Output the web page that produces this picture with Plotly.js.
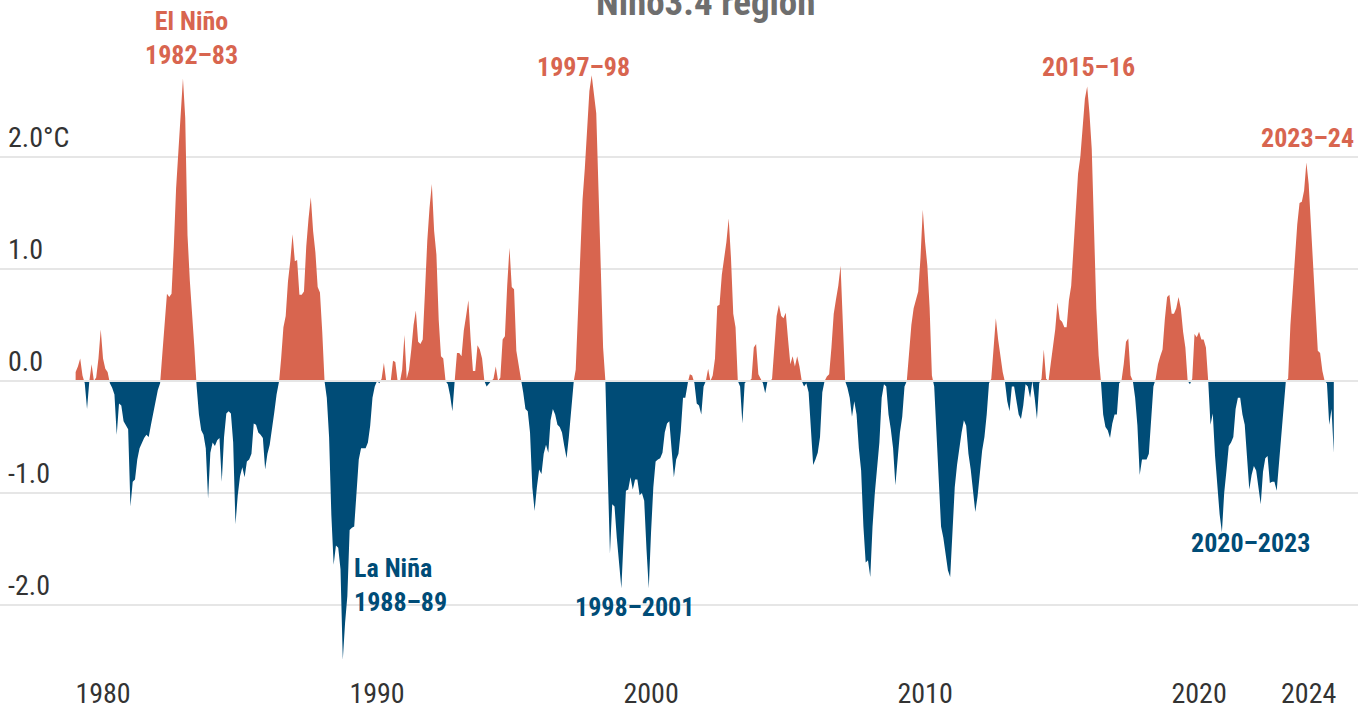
<!DOCTYPE html>
<html>
<head>
<meta charset="utf-8">
<script src="https://cdn.plot.ly/plotly-3.0.1.min.js"></script>
<style>html,body{margin:0;padding:0;background:#fff;}#chart{width:1358px;height:706px;}</style>
</head>
<body>
<div id="chart"></div>
<script>
// ---- DATA: monthly Niño3.4 SST anomaly (°C), starting January 1979 ----
const startYear = 1979;
const anom1979_1989 = [
  0.08, 0.13, 0.2, 0.05, -0.02, -0.25, 0.0, 0.15, 0.0, 0.03, 0.2, 0.46,          // 1979
  0.2, 0.11, 0.08, -0.02, -0.06, -0.12, -0.48, -0.2, -0.22, -0.36, -0.39, -0.43, // 1980
  -1.12, -0.9, -0.88, -0.7, -0.6, -0.55, -0.51, -0.48, -0.5, -0.39, -0.29, -0.2, // 1981
  -0.08, -0.02, 0.25, 0.55, 0.78, 0.75, 0.78, 1.2, 1.72, 2.05, 2.4, 2.7,         // 1982
  2.35, 1.3, 0.9, 0.62, 0.3, -0.05, -0.3, -0.44, -0.48, -0.6, -1.05, -0.64,      // 1983
  -0.55, -0.58, -0.53, -0.51, -0.9, -0.5, -0.29, -0.27, -0.29, -0.55, -1.28, -1.02, // 1984
  -0.85, -0.77, -0.86, -0.72, -0.7, -0.65, -0.38, -0.39, -0.46, -0.48, -0.51, -0.79, // 1985
  -0.65, -0.57, -0.44, -0.28, -0.12, -0.03, 0.2, 0.48, 0.58, 0.89, 1.07, 1.31,   // 1986
  1.07, 1.08, 0.77, 0.77, 0.8, 1.2, 1.45, 1.64, 1.34, 1.15, 0.84, 0.79,          // 1987
  0.44, 0.0, -0.15, -0.5, -1.2, -1.64, -1.47, -1.49, -1.68, -2.49, -2.16, -1.92, // 1988
  -1.33, -1.31, -1.3, -0.95, -0.7, -0.6, -0.6, -0.6, -0.55, -0.4, -0.15, -0.05   // 1989
];
const anom1990_1999 = [
  0.0, -0.02, 0.02, 0.16, 0.0, -0.01, 0.0, 0.18, 0.17, 0.0, -0.01, 0.1,          // 1990
  0.41, 0.02, 0.1, 0.28, 0.5, 0.63, 0.35, 0.33, 0.37, 0.8, 1.25, 1.55,           // 1991
  1.76, 1.34, 1.13, 0.55, 0.22, 0.2, 0.0, -0.03, -0.13, -0.27, 0.0, 0.25,        // 1992
  0.25, 0.22, 0.45, 0.58, 0.72, 0.37, 0.09, 0.09, 0.32, 0.28, 0.2, 0.0,          // 1993
  -0.05, -0.02, 0.0, 0.02, 0.13, 0.0, 0.03, 0.37, 0.4, 0.85, 1.19, 0.84,         // 1994
  0.82, 0.27, 0.15, 0.02, -0.1, -0.25, -0.27, -0.46, -0.95, -1.16, -0.95, -0.79, // 1995
  -0.83, -0.65, -0.57, -0.64, -0.35, -0.25, -0.3, -0.39, -0.41, -0.46, -0.58, -0.69, // 1996
  -0.5, -0.25, -0.02, 0.1, 0.58, 1.07, 1.62, 1.9, 2.25, 2.59, 2.73, 2.55,        // 1997
  2.39, 1.7, 0.9, 0.3, 0.0, -0.8, -1.54, -1.1, -1.12, -1.4, -1.64, -1.85,        // 1998
  -1.4, -0.98, -0.97, -0.86, -0.97, -0.88, -0.88, -1.02, -1.0, -1.07, -1.5, -1.85 // 1999
];
const anom2000_2009 = [
  -1.35, -0.95, -0.72, -0.7, -0.69, -0.64, -0.46, -0.38, -0.36, -0.6, -0.86, -0.7, // 2000
  -0.65, -0.45, -0.15, -0.15, -0.02, 0.06, 0.05, -0.02, -0.2, -0.22, -0.3, -0.05,  // 2001
  0.0, 0.11, 0.0, 0.05, 0.2, 0.67, 0.68, 0.95, 1.1, 1.24, 1.45, 1.1,              // 2002
  0.6, 0.48, 0.0, -0.05, -0.38, -0.02, 0.0, 0.0, 0.02, 0.3, 0.33, 0.06,           // 2003
  0.02, -0.02, -0.11, 0.0, -0.01, 0.02, 0.34, 0.58, 0.68, 0.58, 0.56, 0.61,       // 2004
  0.37, 0.15, 0.22, 0.13, 0.22, 0.13, 0.0, -0.05, -0.02, -0.1, -0.46, -0.75,      // 2005
  -0.7, -0.64, -0.5, -0.1, 0.0, 0.04, 0.06, 0.3, 0.6, 0.73, 0.85, 1.03,           // 2006
  0.5, 0.0, -0.06, -0.15, -0.32, -0.18, -0.3, -0.6, -0.8, -1.3, -1.62, -1.6,      // 2007
  -1.75, -1.3, -1.0, -0.75, -0.55, -0.15, -0.03, -0.05, -0.3, -0.43, -0.6, -0.93, // 2008
  -0.7, -0.46, -0.32, -0.05, 0.0, 0.25, 0.5, 0.65, 0.72, 0.8, 1.1, 1.53           // 2009
];
const anom2010_2019 = [
  1.24, 1.03, 0.65, 0.05, -0.05, -0.46, -0.95, -1.3, -1.4, -1.57, -1.69, -1.75,   // 2010
  -1.4, -0.95, -0.75, -0.6, -0.46, -0.35, -0.4, -0.65, -0.79, -0.98, -1.17, -1.03, // 2011
  -0.85, -0.62, -0.5, -0.3, -0.02, 0.02, 0.3, 0.56, 0.37, 0.22, 0.08, -0.01,      // 2012
  -0.18, -0.27, -0.05, -0.05, -0.18, -0.3, -0.34, -0.22, -0.03, -0.05, -0.15, 0.0, // 2013
  -0.15, -0.34, -0.02, 0.02, 0.28, 0.02, -0.01, 0.15, 0.3, 0.46, 0.7, 0.55,       // 2014
  0.53, 0.48, 0.48, 0.72, 0.85, 1.15, 1.5, 1.85, 2.0, 2.28, 2.52, 2.63,           // 2015
  2.39, 2.07, 1.31, 0.65, 0.23, 0.0, -0.3, -0.41, -0.44, -0.51, -0.38, -0.3,      // 2016
  -0.3, -0.02, 0.0, 0.15, 0.35, 0.38, 0.05, 0.0, -0.15, -0.4, -0.84, -0.7,        // 2017
  -0.7, -0.7, -0.65, -0.3, -0.05, 0.02, 0.15, 0.22, 0.28, 0.55, 0.75, 0.77,       // 2018
  0.6, 0.6, 0.65, 0.75, 0.65, 0.44, 0.3, 0.0, -0.03, 0.02, 0.42, 0.39             // 2019
];
const anom2020_2024 = [
  0.44, 0.37, 0.37, 0.3, 0.0, -0.39, -0.29, -0.67, -0.95, -1.19, -1.35, -1.0,     // 2020
  -0.8, -0.58, -0.55, -0.5, -0.25, -0.15, -0.15, -0.3, -0.39, -0.7, -0.97, -0.84, // 2021
  -0.76, -0.8, -0.95, -1.1, -0.81, -0.69, -0.67, -0.91, -0.9, -0.9, -0.98, -0.74, // 2022
  -0.46, -0.2, 0.0, 0.02, 0.5, 0.8, 1.1, 1.4, 1.59, 1.6, 1.7, 1.95,               // 2023
  1.76, 1.41, 1.07, 0.65, 0.27, 0.25, 0.09, 0.0, -0.02, -0.39, -0.25, -0.64       // 2024
];
const xTickYears = [1980, 1990, 2000, 2010, 2020, 2024];
const xTickText = ["1980", "1990", "2000", "2010", "2020", "2024"];
const yTickValues = [2, 1, 0, -1, -2];
const yTickText = ["2.0°C", "1.0", "0.0", "-1.0", "-2.0"];
const warmLabels = ["El Niño<br>1982–83", "1997–98", "2015–16", "2023–24"];
const coolLabels = ["La Niña<br>1988–89", "1998–2001", "2020–2023"];
const titleText = "Niño3.4 region";

// ---- BUILD ----
const RED = "#D8654F", BLUE = "#004C77";
const FONT = "'Roboto Condensed', 'Liberation Sans Narrow', 'Arial Narrow', Roboto, sans-serif";
const values = [].concat(anom1979_1989, anom1990_1999, anom2000_2009, anom2010_2019, anom2020_2024);
const xs = values.map((v, i) => startYear + i / 12);
const X = [], P = [], N = [];
for (let i = 0; i < values.length; i++) {
  const v = values[i];
  if (i > 0) {
    const pv = values[i - 1];
    if ((pv > 0 && v < 0) || (pv < 0 && v > 0)) {
      const t = pv / (pv - v);
      X.push(xs[i - 1] + t * (xs[i] - xs[i - 1])); P.push(0); N.push(0);
    }
  }
  X.push(xs[i]); P.push(Math.max(v, 0)); N.push(Math.min(v, 0));
}

const traces = [
  {x: X, y: P, type: "scatter", mode: "lines", line: {width: 0, color: RED}, fill: "tozeroy", fillcolor: RED, hoverinfo: "skip"},
  {x: X, y: N, type: "scatter", mode: "lines", line: {width: 0, color: BLUE}, fill: "tozeroy", fillcolor: BLUE, hoverinfo: "skip"}
];

// label placement (layout only)
const warmPos = [[1983.23, 3.06, "center"], [1997.52, 2.80, "center"], [2015.95, 2.80, "center"], [2023.94, 2.17, "center"]];
const coolPos = [[1989.09, -1.82, "left"], [1999.41, -2.02, "center"], [2021.86, -1.45, "center"]];

const annotations = [];
warmLabels.forEach((t, k) => annotations.push({
  text: t, x: warmPos[k][0], y: warmPos[k][1], xref: "x", yref: "y", xanchor: warmPos[k][2], yanchor: "middle",
  showarrow: false, font: {family: FONT, size: 26, color: RED, weight: 700}
}));
coolLabels.forEach((t, k) => annotations.push({
  text: t, x: coolPos[k][0], y: coolPos[k][1], xref: "x", yref: "y", xanchor: coolPos[k][2], yanchor: "middle", align: "left",
  showarrow: false, font: {family: FONT, size: 26, color: BLUE, weight: 700}
}));
yTickText.forEach((t, k) => annotations.push({
  text: t, x: 6 / 1358, y: yTickValues[k], xref: "paper", yref: "y", xanchor: "left", yanchor: "bottom", yshift: 1,
  showarrow: false, font: {family: FONT, size: 28, color: "#333333"}
}));
annotations.push({
  text: titleText, x: 705 / 1358, y: 1.043, xref: "paper", yref: "paper", xanchor: "center", yanchor: "middle",
  showarrow: false, font: {family: FONT, size: 37, color: "#6e6e6e", weight: 700}
});

const layout = {
  width: 1358, height: 706,
  margin: {l: 0, r: 0, t: 30, b: 40, pad: 0},
  paper_bgcolor: "#ffffff", plot_bgcolor: "#ffffff",
  showlegend: false,
  xaxis: {
    range: [1976.24, 2025.80], tickmode: "array", tickvals: xTickYears, ticktext: xTickText,
    showgrid: false, zeroline: false, showline: false, ticks: "", ticklabelstandoff: 8,
    tickfont: {family: FONT, size: 28, color: "#333333"}, fixedrange: true
  },
  yaxis: {
    range: [-2.545, 3.134], tickmode: "array", tickvals: yTickValues, showticklabels: false,
    showgrid: true, gridcolor: "#e6e6e6", gridwidth: 2, zeroline: false, showline: false, ticks: "", fixedrange: true
  },
  shapes: [{type: "line", xref: "paper", x0: 0, x1: 1, yref: "y", y0: 0, y1: 0, layer: "above", line: {color: "#e6e6e6", width: 2}}],
  annotations: annotations
};

Plotly.newPlot("chart", traces, layout, {displayModeBar: false, staticPlot: true});
</script>
</body>
</html>
